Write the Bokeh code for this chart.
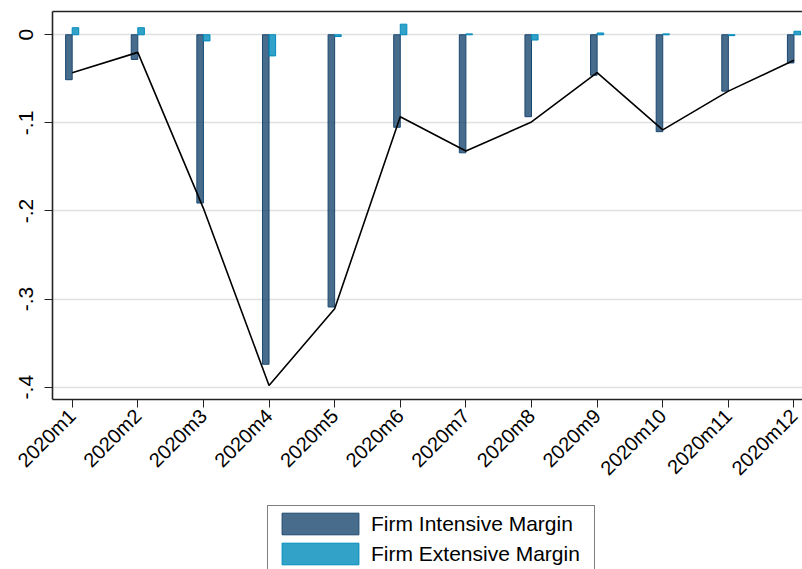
import math
from bokeh.plotting import figure
from bokeh.layouts import column
from bokeh.models import (FixedTicker, LinearAxis, Legend, LegendItem, Range1d,
                          ColumnDataSource)
from bokeh.transform import dodge
from bokeh.embed import file_html
from bokeh.resources import INLINE

# ---- data ----
months = list(range(1, 13))
month_labels = ["2020m1", "2020m2", "2020m3", "2020m4", "2020m5", "2020m6",
                "2020m7", "2020m8", "2020m9", "2020m10", "2020m11", "2020m12"]
intensive = [-0.051, -0.028, -0.191, -0.374, -0.309, -0.105,
             -0.134, -0.093, -0.046, -0.110, -0.064, -0.032]
extensive = [0.008, 0.008, -0.007, -0.024, -0.002, 0.012,
             0.001, -0.006, 0.002, 0.001, -0.001, 0.004]
total = [-0.043, -0.020, -0.197, -0.398, -0.311, -0.093,
         -0.132, -0.099, -0.043, -0.108, -0.064, -0.029]
y_ticks = [0, -0.1, -0.2, -0.3, -0.4]
y_tick_labels = ["0", "-.1", "-.2", "-.3", "-.4"]
series_labels = ["Firm Intensive Margin", "Firm Extensive Margin"]

src = ColumnDataSource(dict(month=months, intensive=intensive,
                            extensive=extensive, total=total))

FONT = "Liberation Sans"
NAVY = "#1a476f"
EBBLUE = "#008bbc"
AXIS = "#222222"

bar_int = dict(fill_color=NAVY, fill_alpha=0.8, line_color=NAVY, line_width=1)
bar_ext = dict(fill_color=EBBLUE, fill_alpha=0.8, line_color=EBBLUE, line_width=1)

p = figure(width=802, height=494, output_backend="svg", toolbar_location=None,
           x_range=Range1d(0.7, 12.13), y_range=Range1d(-0.414, 0.0264),
           min_border_left=52, min_border_right=0, min_border_top=11,
           min_border_bottom=95, background_fill_color="white",
           border_fill_color="white", outline_line_color=None)

p.vbar(x=dodge("month", -0.05, range=p.x_range), top="intensive", bottom=0,
       width=0.1, source=src, **bar_int)
p.vbar(x=dodge("month", 0.05, range=p.x_range), top="extensive", bottom=0,
       width=0.1, source=src, **bar_ext)
p.line(x="month", y="total", source=src, line_color="black", line_width=1.6)

# axes
xa = p.xaxis[0]
xa.ticker = FixedTicker(ticks=months)
xa.major_label_overrides = dict(zip(months, month_labels))
xa.major_label_orientation = math.pi / 4
xa.major_label_text_font = FONT
xa.major_label_text_font_size = "20px"
xa.major_label_text_color = "black"
xa.major_label_standoff = 5
xa.axis_line_color = AXIS
xa.axis_line_width = 1.6
xa.major_tick_out = 8
xa.major_tick_in = 0
xa.major_tick_line_color = AXIS
xa.minor_tick_line_color = None

ya = p.yaxis[0]
ya.ticker = FixedTicker(ticks=y_ticks)
ya.major_label_overrides = dict(zip(y_ticks, y_tick_labels))
ya.major_label_orientation = "vertical"
ya.major_label_text_font = FONT
ya.major_label_text_font_size = "21px"
ya.major_label_text_color = "black"
ya.major_label_standoff = 11
ya.axis_line_color = AXIS
ya.axis_line_width = 1.6
ya.major_tick_out = 8
ya.major_tick_in = 0
ya.major_tick_line_color = AXIS
ya.minor_tick_line_color = None

top_axis = LinearAxis(ticker=FixedTicker(ticks=[]), major_label_text_font_size="0px",
                      major_tick_line_color=None, minor_tick_line_color=None,
                      axis_line_color=AXIS, axis_line_width=1.6)
p.add_layout(top_axis, "above")

p.xgrid.visible = False
p.ygrid.ticker = FixedTicker(ticks=y_ticks)
p.ygrid.grid_line_color = "#e0e0e0"
p.ygrid.grid_line_width = 1.5

# ---- legend strip below the chart (key glyphs only, no data drawn) ----
pl = figure(width=802, height=75, output_backend="svg", toolbar_location=None,
            x_range=Range1d(0, 1), y_range=Range1d(0, 1),
            x_axis_location=None, y_axis_location=None, min_border=0,
            outline_line_color=None, background_fill_color="white",
            border_fill_color="white")
pl.grid.visible = False
key_src = ColumnDataSource(dict(x=[float("nan")], top=[float("nan")]))
k_int = pl.vbar(x="x", top="top", width=0.1, source=key_src, **bar_int)
k_ext = pl.vbar(x="x", top="top", width=0.1, source=key_src, **bar_ext)

legend = Legend(items=[LegendItem(label=series_labels[0], renderers=[k_int]),
                       LegendItem(label=series_labels[1], renderers=[k_ext])],
                location=(215, -3), orientation="vertical",
                border_line_color="black", border_line_width=1,
                background_fill_color="white", background_fill_alpha=1,
                label_text_font=FONT, label_text_font_size="21px",
                label_text_color="black",
                glyph_width=96, glyph_height=27, label_height=22,
                label_width=219, label_standoff=3, spacing=3, padding=4,
                margin=0)
pl.add_layout(legend)

open("out.html", "w").write(file_html(column(p, pl, spacing=0), INLINE))
